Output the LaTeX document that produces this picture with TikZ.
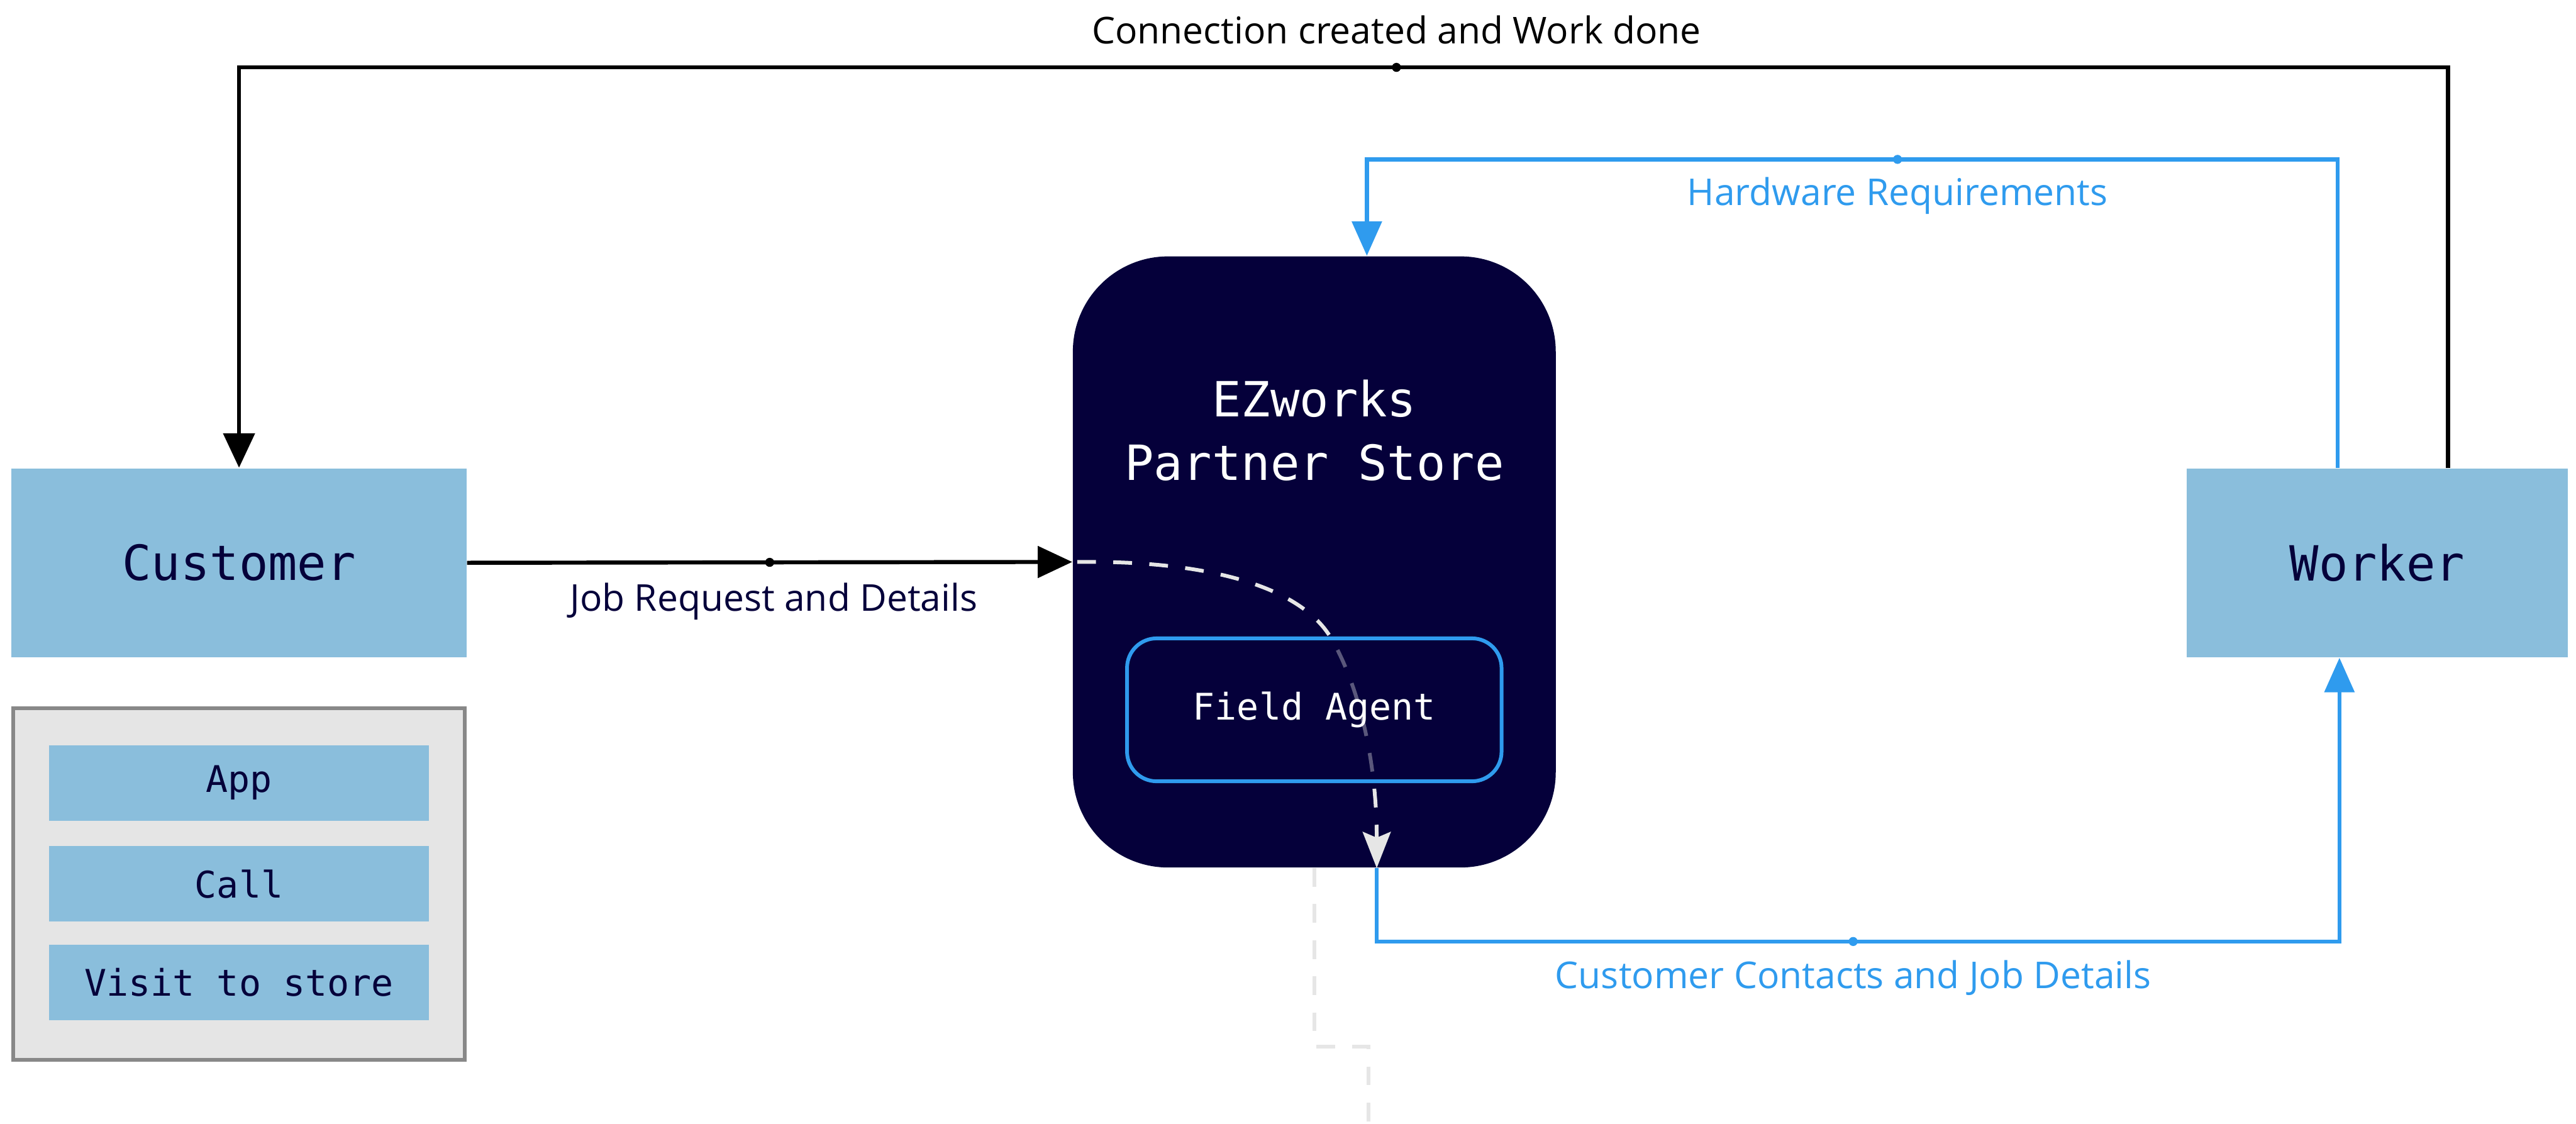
\documentclass[tikz,border=0pt]{standalone}
\usepackage{fontspec}
\setmainfont{Open Sans}
\newfontfamily\monofont{DejaVu Sans Mono}
\usetikzlibrary{arrows.meta,calc}

\definecolor{navy}{HTML}{05003A}
\definecolor{boxblue}{HTML}{8ABEDC}
\definecolor{linkblue}{HTML}{2F9BEE}
\definecolor{panelgray}{HTML}{E5E5E5}
\definecolor{paneledge}{HTML}{888888}
\definecolor{flowgray}{HTML}{E6E6E6}

\begin{document}
\begin{tikzpicture}[x=0.02cm,y=-0.02cm,
  bigmono/.style={font=\monofont\fontsize{16.8}{22}\selectfont},
  smallmono/.style={font=\monofont\fontsize{12.7}{15}\selectfont},
  actor/.style={fill=boxblue, text=navy, bigmono, minimum height=2.3cm, inner sep=0pt},
  channel/.style={fill=boxblue, text=navy, smallmono, minimum width=4.62cm, minimum height=0.92cm, inner sep=0pt},
  lbl/.style={font=\fontsize{12.8}{15}\selectfont, inner sep=0pt},
  blackconn/.style={draw=black, line width=1.4pt, -{Triangle[length=0.42cm,width=0.38cm]}},
  blueconn/.style={draw=linkblue, line width=1.4pt, -{Triangle[length=0.42cm,width=0.36cm]}},
  flowdash/.style={draw=flowgray, line width=1.3pt, dash pattern=on 6.5pt off 6pt},
  knot/.style={fill=#1},
]
\useasboundingbox (0,0) rectangle (1568,684);

% --- Actors -------------------------------------------------------------
\node[actor, minimum width=5.54cm] (customer) at (145.5,342.5) {Customer};
\node[actor, minimum width=4.64cm] (worker) at (1447,342.5) {Worker};

% --- Contact channels panel ---------------------------------------------
\node[fill=panelgray, draw=paneledge, line width=1.2pt, minimum width=5.5cm,
      minimum height=4.28cm, inner sep=0pt] (channels) at (145.5,538) {};
\node[channel] (app)   at (145.5,476.5) {App};
\node[channel] (call)  at (145.5,538)   {Call};
\node[channel] (visit) at (145.5,598)   {Visit to store};

% --- Partner store --------------------------------------------------------
\node[fill=navy, rounded corners=1.16cm, minimum width=5.88cm,
      minimum height=7.44cm, inner sep=0pt] (store) at (800,342) {};
\node[text=white, bigmono, align=center, inner sep=0pt] (storetitle) at (800,262)
      {EZworks\\Partner Store};

% internal hand-over path through the field agent
\draw[flowdash, -{Stealth[length=0.44cm,width=0.34cm,inset=0.07cm]}]
  ($(store.west)+(3,0)$) .. controls (730,341) and (790,355) .. (810,388)
  .. controls (826,415) and (838,460) .. ($(store.south)+(38,0)$);

\node[fill=navy, fill opacity=0.62, text opacity=1, draw=linkblue, line width=1.3pt,
      rounded corners=0.36cm, minimum width=4.56cm, minimum height=1.74cm,
      text=white, smallmono] (agent) at (800,432) {Field Agent};

% onward path below the store
\coordinate (gturn) at (833,637);
\coordinate (gexit) at (833,690);
\draw[flowdash] (store.south) |- (gturn) -- (gexit);

% --- Connectors -----------------------------------------------------------
% job request: customer -> store
\draw[blackconn] (customer.east) -- (store.west)
  node[pos=0.5, circle, knot=black, inner sep=0pt, minimum size=0.11cm] (jobmid) {};
\node[lbl, text=navy] (joblbl) at (471,366) {Job Request and Details};

% connection created: worker -> customer
\coordinate (topmid) at (850,41);
\draw[blackconn] ($(worker.north)+(43,0)$) |- (topmid) -| (customer.north);
\fill[black] (topmid) circle (0.055cm);
\node[lbl, text=black] (toplbl) at (850,18) {Connection created and Work done};

% hardware requirements: worker -> store
\coordinate (hwmid) at (1155,97);
\draw[blueconn] ($(worker.north)+(-24,0)$) |- (hwmid) -| ($(store.north)+(32,0)$);
\fill[linkblue] (hwmid) circle (0.055cm);
\node[lbl, text=linkblue] (hwlbl) at (1155,119) {Hardware Requirements};

% customer contacts: store -> worker
\coordinate (ccmid) at (1128,573);
\draw[blueconn] ($(store.south)+(38,0)$) |- (ccmid) -| ($(worker.south)+(-23,0)$);
\fill[linkblue] (ccmid) circle (0.055cm);
\node[lbl, text=linkblue] (cclbl) at (1128,595) {Customer Contacts and Job Details};

\end{tikzpicture}
\end{document}
